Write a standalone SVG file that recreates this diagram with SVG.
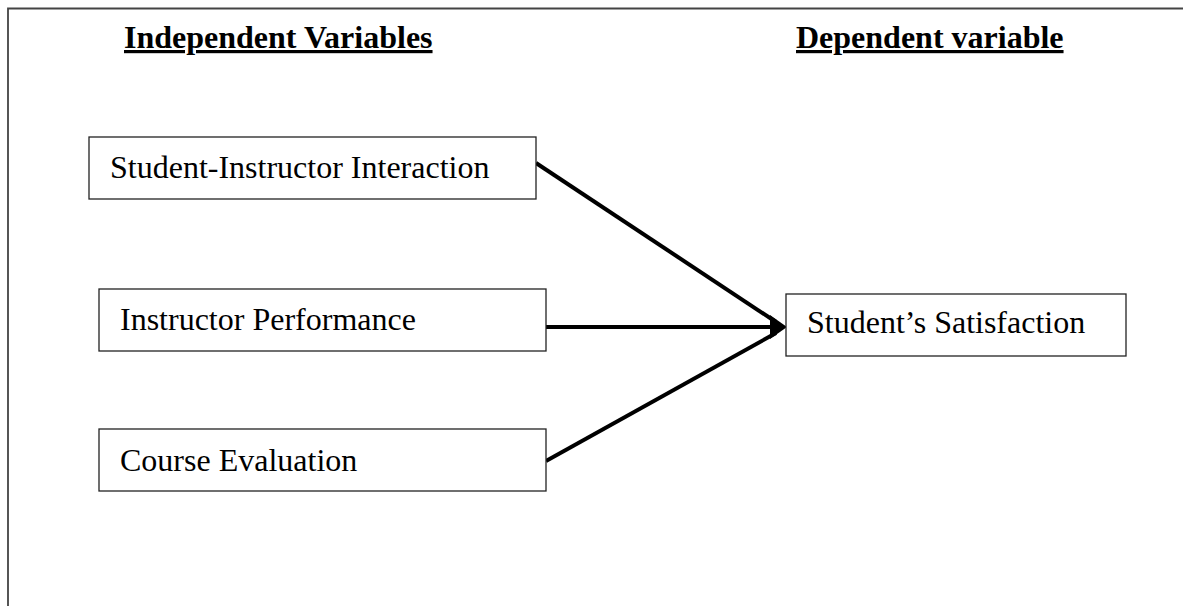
<svg xmlns="http://www.w3.org/2000/svg" width="1183" height="606" viewBox="0 0 1183 606">
<style>
.frame{fill:none;stroke:#444;stroke-width:1.8}
.box{fill:#fff;stroke:#222;stroke-width:1.3}
.lbl{font-family:"Liberation Serif","Times New Roman",serif;font-size:32px;fill:#000}
.hdr{font-family:"Liberation Serif","Times New Roman",serif;font-size:32px;font-weight:bold;fill:#000;text-decoration:underline}
.conn{stroke:#000;stroke-width:4;fill:none}
.head{fill:#000;stroke:none}
</style>
<rect width="1183" height="606" fill="#fff"/>
<path class="frame" d="M8,606 V8.5 H1183"/>
<text class="hdr" x="124" y="48">Independent Variables</text>
<text class="hdr" x="796" y="48">Dependent variable</text>
<g id="connectors">
<line class="conn" x1="536" y1="163" x2="776" y2="322"/>
<line class="conn" x1="546" y1="461" x2="776" y2="333"/>
<line class="conn" x1="546" y1="327" x2="772" y2="327"/>
<path class="head" d="M787,327 L770,315 L770,339 Z"/>
</g>
<g id="n1"><rect class="box" x="89" y="137" width="447" height="62"/><text class="lbl" x="110" y="178">Student-Instructor Interaction</text></g>
<g id="n2"><rect class="box" x="99" y="289" width="447" height="62"/><text class="lbl" x="120" y="330">Instructor Performance</text></g>
<g id="n3"><rect class="box" x="99" y="429" width="447" height="62"/><text class="lbl" x="120" y="471">Course Evaluation</text></g>
<g id="n4"><rect class="box" x="786" y="294" width="340" height="62"/><text class="lbl" x="807" y="333">Student’s Satisfaction</text></g>
</svg>
